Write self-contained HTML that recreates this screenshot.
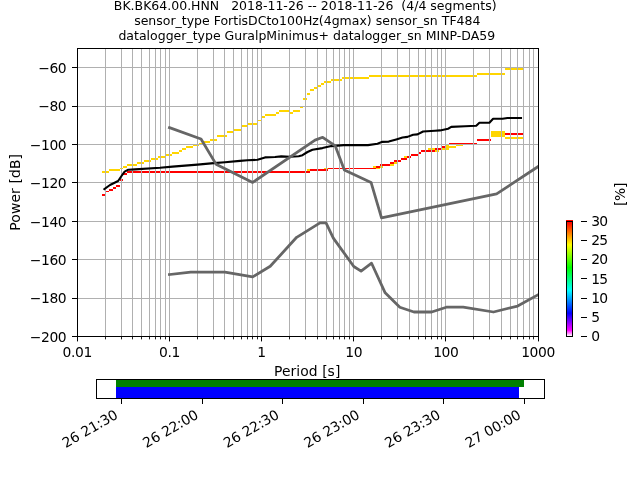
<!DOCTYPE html>
<html><head><meta charset="utf-8"><title>PPSD</title>
<style>html,body{margin:0;padding:0;background:#fff}body{width:640px;height:480px;overflow:hidden}svg{display:block}text{font-family:"DejaVu Sans","Liberation Sans",sans-serif;font-size:13.89px;fill:#000}</style></head><body>
<svg width="640" height="480" viewBox="0 0 640 480">
<rect width="640" height="480" fill="#fff"/>
<g shape-rendering="crispEdges">
<rect x="102" y="171" width="7" height="2" fill="#ffd500"/>
<rect x="109" y="169" width="11" height="2" fill="#ffd500"/>
<rect x="120" y="168" width="3" height="1" fill="#ffd500"/>
<rect x="123" y="166" width="4" height="2" fill="#ffd500"/>
<rect x="127" y="164" width="10" height="2" fill="#ffd500"/>
<rect x="137" y="162" width="7" height="2" fill="#ffd500"/>
<rect x="144" y="160" width="7" height="2" fill="#ffd500"/>
<rect x="151" y="158" width="7" height="2" fill="#ffd500"/>
<rect x="158" y="156" width="7" height="2" fill="#ffd500"/>
<rect x="165" y="154" width="7" height="2" fill="#ffd500"/>
<rect x="172" y="152" width="7" height="2" fill="#ffd500"/>
<rect x="179" y="150" width="3" height="2" fill="#ffd500"/>
<rect x="182" y="148" width="4" height="2" fill="#ffd500"/>
<rect x="186" y="146" width="7" height="2" fill="#ffd500"/>
<rect x="193" y="144" width="6" height="2" fill="#ffd500"/>
<rect x="199" y="143" width="4" height="1" fill="#ffd500"/>
<rect x="203" y="141" width="7" height="2" fill="#ffd500"/>
<rect x="210" y="139" width="7" height="2" fill="#ffd500"/>
<rect x="217" y="135" width="10" height="2" fill="#ffd500"/>
<rect x="227" y="131" width="7" height="2" fill="#ffd500"/>
<rect x="234" y="129" width="7" height="2" fill="#ffd500"/>
<rect x="241" y="125" width="7" height="2" fill="#ffd500"/>
<rect x="248" y="123" width="10" height="2" fill="#ffd500"/>
<rect x="258" y="120" width="4" height="1" fill="#ffd500"/>
<rect x="262" y="116" width="3" height="2" fill="#ffd500"/>
<rect x="265" y="114" width="11" height="2" fill="#ffd500"/>
<rect x="276" y="112" width="3" height="2" fill="#ffd500"/>
<rect x="279" y="110" width="10" height="2" fill="#ffd500"/>
<rect x="289" y="112" width="4" height="2" fill="#ffd500"/>
<rect x="293" y="110" width="7" height="2" fill="#ffd500"/>
<rect x="300" y="106" width="3" height="2" fill="#ffd500"/>
<rect x="303" y="98" width="4" height="2" fill="#ffd500"/>
<rect x="307" y="93" width="3" height="2" fill="#ffd500"/>
<rect x="310" y="89" width="4" height="2" fill="#ffd500"/>
<rect x="314" y="87" width="3" height="2" fill="#ffd500"/>
<rect x="317" y="85" width="4" height="2" fill="#ffd500"/>
<rect x="321" y="83" width="3" height="2" fill="#ffd500"/>
<rect x="324" y="81" width="7" height="2" fill="#ffd500"/>
<rect x="331" y="79" width="11" height="2" fill="#ffd500"/>
<rect x="342" y="77" width="27" height="2" fill="#ffd500"/>
<rect x="369" y="75" width="108" height="2" fill="#ffd500"/>
<rect x="477" y="73" width="28" height="2" fill="#ffd500"/>
<rect x="505" y="68" width="18" height="2" fill="#ffd500"/>
<rect x="102" y="194" width="4" height="2" fill="#ff0000"/>
<rect x="106" y="191" width="3" height="1" fill="#ff0000"/>
<rect x="109" y="189" width="4" height="2" fill="#ff0000"/>
<rect x="113" y="187" width="3" height="2" fill="#ff0000"/>
<rect x="116" y="185" width="4" height="2" fill="#ff0000"/>
<rect x="120" y="179" width="3" height="2" fill="#ff0000"/>
<rect x="123" y="173" width="4" height="2" fill="#ff0000"/>
<rect x="127" y="171" width="183" height="2" fill="#ff0000"/>
<rect x="307" y="169" width="3" height="2" fill="#ffd500"/>
<rect x="310" y="169" width="18" height="2" fill="#ff0000"/>
<rect x="324" y="168" width="4" height="1" fill="#ffd500"/>
<rect x="328" y="168" width="48" height="1" fill="#ff0000"/>
<rect x="373" y="166" width="3" height="2" fill="#ffd500"/>
<rect x="376" y="166" width="4" height="2" fill="#ff0000"/>
<rect x="376" y="168" width="4" height="1" fill="#ffd500"/>
<rect x="380" y="164" width="10" height="2" fill="#ff0000"/>
<rect x="380" y="166" width="3" height="2" fill="#ffd500"/>
<rect x="390" y="162" width="4" height="2" fill="#ff0000"/>
<rect x="390" y="164" width="4" height="2" fill="#ffd500"/>
<rect x="394" y="160" width="7" height="2" fill="#ff0000"/>
<rect x="394" y="162" width="3" height="2" fill="#ffd500"/>
<rect x="401" y="158" width="6" height="2" fill="#ff0000"/>
<rect x="404" y="156" width="3" height="2" fill="#ffd500"/>
<rect x="407" y="156" width="4" height="2" fill="#ff0000"/>
<rect x="411" y="154" width="7" height="2" fill="#ff0000"/>
<rect x="418" y="152" width="3" height="2" fill="#ff0000"/>
<rect x="421" y="150" width="14" height="2" fill="#ff0000"/>
<rect x="428" y="148" width="7" height="2" fill="#ffd500"/>
<rect x="435" y="148" width="7" height="2" fill="#ff0000"/>
<rect x="435" y="150" width="4" height="2" fill="#ffd500"/>
<rect x="442" y="146" width="4" height="2" fill="#ff0000"/>
<rect x="442" y="148" width="4" height="2" fill="#ffd500"/>
<rect x="449" y="146" width="7" height="2" fill="#ffd500"/>
<rect x="456" y="144" width="7" height="2" fill="#ffd500"/>
<rect x="449" y="143" width="28" height="1" fill="#ff0000"/>
<rect x="477" y="139" width="14" height="2" fill="#ff0000"/>
<rect x="505" y="133" width="18" height="2" fill="#ff0000"/>
<rect x="505" y="137" width="18" height="2" fill="#ffd500"/>
<rect x="446" y="144" width="3" height="6" fill="#ffd500"/>
<rect x="491" y="131" width="14" height="6" fill="#ffd500"/>
<rect x="105" y="49" width="1" height="287" fill="#b0b0b0"/>
<rect x="121" y="49" width="1" height="287" fill="#b0b0b0"/>
<rect x="132" y="49" width="1" height="287" fill="#b0b0b0"/>
<rect x="141" y="49" width="1" height="287" fill="#b0b0b0"/>
<rect x="149" y="49" width="1" height="287" fill="#b0b0b0"/>
<rect x="155" y="49" width="1" height="287" fill="#b0b0b0"/>
<rect x="160" y="49" width="1" height="287" fill="#b0b0b0"/>
<rect x="165" y="49" width="1" height="287" fill="#b0b0b0"/>
<rect x="169" y="49" width="1" height="287" fill="#b0b0b0"/>
<rect x="197" y="49" width="1" height="287" fill="#b0b0b0"/>
<rect x="213" y="49" width="1" height="287" fill="#b0b0b0"/>
<rect x="224" y="49" width="1" height="287" fill="#b0b0b0"/>
<rect x="233" y="49" width="1" height="287" fill="#b0b0b0"/>
<rect x="241" y="49" width="1" height="287" fill="#b0b0b0"/>
<rect x="247" y="49" width="1" height="287" fill="#b0b0b0"/>
<rect x="252" y="49" width="1" height="287" fill="#b0b0b0"/>
<rect x="257" y="49" width="1" height="287" fill="#b0b0b0"/>
<rect x="261" y="49" width="1" height="287" fill="#b0b0b0"/>
<rect x="289" y="49" width="1" height="287" fill="#b0b0b0"/>
<rect x="305" y="49" width="1" height="287" fill="#b0b0b0"/>
<rect x="317" y="49" width="1" height="287" fill="#b0b0b0"/>
<rect x="326" y="49" width="1" height="287" fill="#b0b0b0"/>
<rect x="333" y="49" width="1" height="287" fill="#b0b0b0"/>
<rect x="339" y="49" width="1" height="287" fill="#b0b0b0"/>
<rect x="344" y="49" width="1" height="287" fill="#b0b0b0"/>
<rect x="349" y="49" width="1" height="287" fill="#b0b0b0"/>
<rect x="353" y="49" width="1" height="287" fill="#b0b0b0"/>
<rect x="381" y="49" width="1" height="287" fill="#b0b0b0"/>
<rect x="397" y="49" width="1" height="287" fill="#b0b0b0"/>
<rect x="409" y="49" width="1" height="287" fill="#b0b0b0"/>
<rect x="418" y="49" width="1" height="287" fill="#b0b0b0"/>
<rect x="425" y="49" width="1" height="287" fill="#b0b0b0"/>
<rect x="431" y="49" width="1" height="287" fill="#b0b0b0"/>
<rect x="437" y="49" width="1" height="287" fill="#b0b0b0"/>
<rect x="441" y="49" width="1" height="287" fill="#b0b0b0"/>
<rect x="445" y="49" width="1" height="287" fill="#b0b0b0"/>
<rect x="473" y="49" width="1" height="287" fill="#b0b0b0"/>
<rect x="489" y="49" width="1" height="287" fill="#b0b0b0"/>
<rect x="501" y="49" width="1" height="287" fill="#b0b0b0"/>
<rect x="510" y="49" width="1" height="287" fill="#b0b0b0"/>
<rect x="517" y="49" width="1" height="287" fill="#b0b0b0"/>
<rect x="523" y="49" width="1" height="287" fill="#b0b0b0"/>
<rect x="529" y="49" width="1" height="287" fill="#b0b0b0"/>
<rect x="533" y="49" width="1" height="287" fill="#b0b0b0"/>
<rect x="78" y="298" width="460" height="1" fill="#b0b0b0"/>
<rect x="78" y="259" width="460" height="1" fill="#b0b0b0"/>
<rect x="78" y="221" width="460" height="1" fill="#b0b0b0"/>
<rect x="78" y="182" width="460" height="1" fill="#b0b0b0"/>
<rect x="78" y="144" width="460" height="1" fill="#b0b0b0"/>
<rect x="78" y="106" width="460" height="1" fill="#b0b0b0"/>
<rect x="78" y="67" width="460" height="1" fill="#b0b0b0"/>
</g>
<defs><clipPath id="ax"><rect x="77.5" y="48.5" width="461" height="288"/></clipPath></defs>
<g clip-path="url(#ax)" fill="none" stroke-linejoin="round">
<polyline stroke="#000" stroke-width="2.08" stroke-linecap="square" points="104.40,189.10 110.00,185.00 118.10,181.00 121.50,176.00 124.60,171.70 128.30,169.70 135.00,169.40 160.00,167.75 172.50,166.60 185.00,165.60 197.50,164.60 213.75,163.10 225.00,162.25 240.00,160.90 247.50,160.20 257.50,159.80 265.00,157.40 275.00,157.00 281.25,156.40 290.00,156.70 298.75,156.30 302.50,155.20 307.50,152.00 312.50,149.70 322.50,148.10 331.25,146.10 343.75,145.10 368.00,145.10 377.50,143.75 381.90,141.90 388.75,141.60 396.25,139.40 402.50,137.50 407.50,136.90 413.10,134.75 417.50,134.40 423.10,131.50 435.00,130.70 440.00,130.40 448.10,128.75 451.25,126.90 465.00,126.30 476.25,125.80 479.40,122.80 489.40,122.80 493.10,118.80 502.50,118.80 507.50,118.00 521.00,118.00"/>
<polyline stroke="#666666" stroke-width="2.78" stroke-linecap="square" points="169.46,127.68 201.02,139.03 216.01,164.16 252.69,182.40 315.05,140.16 322.70,137.28 335.29,145.92 344.35,169.92 371.06,182.40 381.52,217.92 496.63,193.92 630.26,105.79"/>
<polyline stroke="#666666" stroke-width="2.78" stroke-linecap="square" points="169.46,274.56 190.70,272.06 224.95,272.06 252.69,276.86 270.23,266.30 296.66,237.31 320.00,222.91 326.04,222.91 333.33,238.08 353.78,266.50 361.08,271.10 371.58,263.23 385.16,292.80 399.83,307.20 413.98,312.00 431.66,312.00 446.34,307.20 463.22,307.20 493.48,312.00 517.65,306.05 630.26,243.65"/>
</g>
<g shape-rendering="crispEdges" fill="#000">
<rect x="77" y="48" width="462" height="1"/><rect x="77" y="336" width="462" height="1"/><rect x="77" y="48" width="1" height="289"/><rect x="538" y="48" width="1" height="289"/>
<rect x="72" y="336" width="5" height="1"/>
<rect x="72" y="298" width="5" height="1"/>
<rect x="72" y="259" width="5" height="1"/>
<rect x="72" y="221" width="5" height="1"/>
<rect x="72" y="182" width="5" height="1"/>
<rect x="72" y="144" width="5" height="1"/>
<rect x="72" y="106" width="5" height="1"/>
<rect x="72" y="67" width="5" height="1"/>
<rect x="77" y="337" width="1" height="4"/><rect x="77" y="341" width="1" height="1" fill-opacity="0.4"/>
<rect x="105" y="337" width="1" height="2" fill="#222"/><rect x="105" y="339" width="1" height="1" fill-opacity="0.3"/>
<rect x="121" y="337" width="1" height="2" fill="#222"/><rect x="121" y="339" width="1" height="1" fill-opacity="0.3"/>
<rect x="132" y="337" width="1" height="2" fill="#222"/><rect x="132" y="339" width="1" height="1" fill-opacity="0.3"/>
<rect x="141" y="337" width="1" height="2" fill="#222"/><rect x="141" y="339" width="1" height="1" fill-opacity="0.3"/>
<rect x="149" y="337" width="1" height="2" fill="#222"/><rect x="149" y="339" width="1" height="1" fill-opacity="0.3"/>
<rect x="155" y="337" width="1" height="2" fill="#222"/><rect x="155" y="339" width="1" height="1" fill-opacity="0.3"/>
<rect x="160" y="337" width="1" height="2" fill="#222"/><rect x="160" y="339" width="1" height="1" fill-opacity="0.3"/>
<rect x="165" y="337" width="1" height="2" fill="#222"/><rect x="165" y="339" width="1" height="1" fill-opacity="0.3"/>
<rect x="169" y="337" width="1" height="4"/><rect x="169" y="341" width="1" height="1" fill-opacity="0.4"/>
<rect x="197" y="337" width="1" height="2" fill="#222"/><rect x="197" y="339" width="1" height="1" fill-opacity="0.3"/>
<rect x="213" y="337" width="1" height="2" fill="#222"/><rect x="213" y="339" width="1" height="1" fill-opacity="0.3"/>
<rect x="224" y="337" width="1" height="2" fill="#222"/><rect x="224" y="339" width="1" height="1" fill-opacity="0.3"/>
<rect x="233" y="337" width="1" height="2" fill="#222"/><rect x="233" y="339" width="1" height="1" fill-opacity="0.3"/>
<rect x="241" y="337" width="1" height="2" fill="#222"/><rect x="241" y="339" width="1" height="1" fill-opacity="0.3"/>
<rect x="247" y="337" width="1" height="2" fill="#222"/><rect x="247" y="339" width="1" height="1" fill-opacity="0.3"/>
<rect x="252" y="337" width="1" height="2" fill="#222"/><rect x="252" y="339" width="1" height="1" fill-opacity="0.3"/>
<rect x="257" y="337" width="1" height="2" fill="#222"/><rect x="257" y="339" width="1" height="1" fill-opacity="0.3"/>
<rect x="261" y="337" width="1" height="4"/><rect x="261" y="341" width="1" height="1" fill-opacity="0.4"/>
<rect x="289" y="337" width="1" height="2" fill="#222"/><rect x="289" y="339" width="1" height="1" fill-opacity="0.3"/>
<rect x="305" y="337" width="1" height="2" fill="#222"/><rect x="305" y="339" width="1" height="1" fill-opacity="0.3"/>
<rect x="317" y="337" width="1" height="2" fill="#222"/><rect x="317" y="339" width="1" height="1" fill-opacity="0.3"/>
<rect x="326" y="337" width="1" height="2" fill="#222"/><rect x="326" y="339" width="1" height="1" fill-opacity="0.3"/>
<rect x="333" y="337" width="1" height="2" fill="#222"/><rect x="333" y="339" width="1" height="1" fill-opacity="0.3"/>
<rect x="339" y="337" width="1" height="2" fill="#222"/><rect x="339" y="339" width="1" height="1" fill-opacity="0.3"/>
<rect x="344" y="337" width="1" height="2" fill="#222"/><rect x="344" y="339" width="1" height="1" fill-opacity="0.3"/>
<rect x="349" y="337" width="1" height="2" fill="#222"/><rect x="349" y="339" width="1" height="1" fill-opacity="0.3"/>
<rect x="353" y="337" width="1" height="4"/><rect x="353" y="341" width="1" height="1" fill-opacity="0.4"/>
<rect x="381" y="337" width="1" height="2" fill="#222"/><rect x="381" y="339" width="1" height="1" fill-opacity="0.3"/>
<rect x="397" y="337" width="1" height="2" fill="#222"/><rect x="397" y="339" width="1" height="1" fill-opacity="0.3"/>
<rect x="409" y="337" width="1" height="2" fill="#222"/><rect x="409" y="339" width="1" height="1" fill-opacity="0.3"/>
<rect x="418" y="337" width="1" height="2" fill="#222"/><rect x="418" y="339" width="1" height="1" fill-opacity="0.3"/>
<rect x="425" y="337" width="1" height="2" fill="#222"/><rect x="425" y="339" width="1" height="1" fill-opacity="0.3"/>
<rect x="431" y="337" width="1" height="2" fill="#222"/><rect x="431" y="339" width="1" height="1" fill-opacity="0.3"/>
<rect x="437" y="337" width="1" height="2" fill="#222"/><rect x="437" y="339" width="1" height="1" fill-opacity="0.3"/>
<rect x="441" y="337" width="1" height="2" fill="#222"/><rect x="441" y="339" width="1" height="1" fill-opacity="0.3"/>
<rect x="445" y="337" width="1" height="4"/><rect x="445" y="341" width="1" height="1" fill-opacity="0.4"/>
<rect x="473" y="337" width="1" height="2" fill="#222"/><rect x="473" y="339" width="1" height="1" fill-opacity="0.3"/>
<rect x="489" y="337" width="1" height="2" fill="#222"/><rect x="489" y="339" width="1" height="1" fill-opacity="0.3"/>
<rect x="501" y="337" width="1" height="2" fill="#222"/><rect x="501" y="339" width="1" height="1" fill-opacity="0.3"/>
<rect x="510" y="337" width="1" height="2" fill="#222"/><rect x="510" y="339" width="1" height="1" fill-opacity="0.3"/>
<rect x="517" y="337" width="1" height="2" fill="#222"/><rect x="517" y="339" width="1" height="1" fill-opacity="0.3"/>
<rect x="523" y="337" width="1" height="2" fill="#222"/><rect x="523" y="339" width="1" height="1" fill-opacity="0.3"/>
<rect x="529" y="337" width="1" height="2" fill="#222"/><rect x="529" y="339" width="1" height="1" fill-opacity="0.3"/>
<rect x="533" y="337" width="1" height="2" fill="#222"/><rect x="533" y="339" width="1" height="1" fill-opacity="0.3"/>
<rect x="538" y="337" width="1" height="4"/><rect x="538" y="341" width="1" height="1" fill-opacity="0.4"/>
</g>
<text x="66.3" y="341.8" text-anchor="end" style="letter-spacing:-0.4px">−200</text>
<text x="66.3" y="303.4" text-anchor="end" style="letter-spacing:-0.4px">−180</text>
<text x="66.3" y="265.0" text-anchor="end" style="letter-spacing:-0.4px">−160</text>
<text x="66.3" y="226.6" text-anchor="end" style="letter-spacing:-0.4px">−140</text>
<text x="66.3" y="188.2" text-anchor="end" style="letter-spacing:-0.4px">−120</text>
<text x="66.3" y="149.8" text-anchor="end" style="letter-spacing:-0.4px">−100</text>
<text x="66.3" y="111.4" text-anchor="end" style="letter-spacing:-0.4px">−80</text>
<text x="66.3" y="73.0" text-anchor="end" style="letter-spacing:-0.4px">−60</text>
<text x="77.2" y="357" text-anchor="middle" style="letter-spacing:-0.4px">0.01</text>
<text x="169.4" y="357" text-anchor="middle" style="letter-spacing:-0.4px">0.1</text>
<text x="261.5" y="357" text-anchor="middle" style="letter-spacing:-0.4px">1</text>
<text x="353.7" y="357" text-anchor="middle" style="letter-spacing:-0.4px">10</text>
<text x="445.8" y="357" text-anchor="middle" style="letter-spacing:-0.4px">100</text>
<text x="538.0" y="357" text-anchor="middle" style="letter-spacing:-0.4px">1000</text>
<text x="307.2" y="375.5" text-anchor="middle" style="letter-spacing:0.07px">Period [s]</text>
<text transform="translate(20.3,192.3) rotate(-90)" text-anchor="middle" style="letter-spacing:0.12px">Power [dB]</text>
<text x="305.2" y="9.6" style="font-size:12.5px" text-anchor="middle" xml:space="preserve">BK.BK64.00.HNN   2018-11-26 -- 2018-11-26  (4/4 segments)</text>
<text x="307.3" y="24.6" style="font-size:12.5px" text-anchor="middle" xml:space="preserve">sensor_type FortisDCto100Hz(4gmax) sensor_sn TF484</text>
<text x="306.8" y="39.6" style="font-size:12.5px" text-anchor="middle" xml:space="preserve">datalogger_type GuralpMinimus+ datalogger_sn MINP-DA59</text>
<defs><linearGradient id="pq" x1="0" y1="1" x2="0" y2="0"><stop offset="0" stop-color="#fff"/><stop offset="0.05" stop-color="#f0f"/><stop offset="0.2" stop-color="#00f"/><stop offset="0.4" stop-color="#0ff"/><stop offset="0.6" stop-color="#0f0"/><stop offset="0.8" stop-color="#ff0"/><stop offset="1" stop-color="#f00"/></linearGradient></defs>
<g shape-rendering="crispEdges"><rect x="566" y="220" width="7" height="2" fill="#f00"/><rect x="566" y="221" width="7" height="116" fill="#000"/><rect x="567" y="222" width="5" height="114" fill="url(#pq)"/><rect x="566" y="220" width="7" height="1" fill="#f00"/>
<rect x="581" y="336" width="6" height="1" fill="#000"/>
<rect x="581" y="317" width="6" height="1" fill="#000"/>
<rect x="581" y="298" width="6" height="1" fill="#000"/>
<rect x="581" y="278" width="6" height="1" fill="#000"/>
<rect x="581" y="259" width="6" height="1" fill="#000"/>
<rect x="581" y="240" width="6" height="1" fill="#000"/>
<rect x="581" y="221" width="6" height="1" fill="#000"/>
</g>
<text x="591.2" y="341.1" style="letter-spacing:-0.8px">0</text>
<text x="591.2" y="321.9" style="letter-spacing:-0.8px">5</text>
<text x="591.2" y="302.8" style="letter-spacing:-0.8px">10</text>
<text x="591.2" y="283.6" style="letter-spacing:-0.8px">15</text>
<text x="591.2" y="264.4" style="letter-spacing:-0.8px">20</text>
<text x="591.2" y="245.3" style="letter-spacing:-0.8px">25</text>
<text x="591.2" y="226.1" style="letter-spacing:-0.8px">30</text>
<text transform="translate(624.9,194.5) rotate(-90)" text-anchor="middle" style="letter-spacing:-0.3px">[%]</text>
<g shape-rendering="crispEdges"><rect x="116" y="380" width="408" height="7" fill="#008000"/><rect x="116" y="387" width="403" height="11" fill="#0000ff"/>
<rect x="96" y="379" width="449" height="1"/><rect x="96" y="398" width="449" height="1"/><rect x="96" y="379" width="1" height="20"/><rect x="544" y="379" width="1" height="20"/>
<rect x="121" y="399" width="1" height="5"/>
<rect x="202" y="399" width="1" height="5"/>
<rect x="282" y="399" width="1" height="5"/>
<rect x="363" y="399" width="1" height="5"/>
<rect x="443" y="399" width="1" height="5"/>
<rect x="524" y="399" width="1" height="5"/>
</g>
<text transform="translate(118.8,417.6) rotate(-30)" text-anchor="end" style="letter-spacing:-0.1px">26 21:30</text>
<text transform="translate(199.4,417.6) rotate(-30)" text-anchor="end" style="letter-spacing:-0.1px">26 22:00</text>
<text transform="translate(280.0,417.6) rotate(-30)" text-anchor="end" style="letter-spacing:-0.1px">26 22:30</text>
<text transform="translate(360.6,417.6) rotate(-30)" text-anchor="end" style="letter-spacing:-0.1px">26 23:00</text>
<text transform="translate(441.2,417.6) rotate(-30)" text-anchor="end" style="letter-spacing:-0.1px">26 23:30</text>
<text transform="translate(521.8,417.6) rotate(-30)" text-anchor="end" style="letter-spacing:-0.1px">27 00:00</text>
</svg></body></html>
